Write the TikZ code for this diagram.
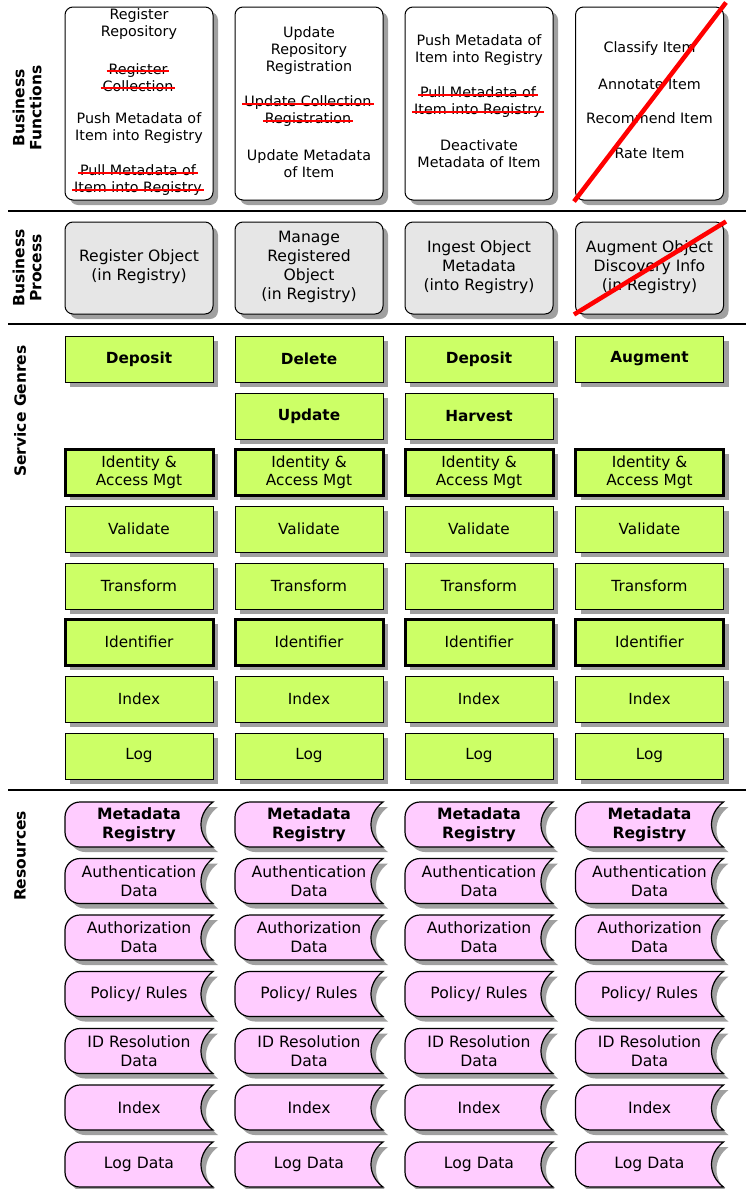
\documentclass[tikz,border=0pt]{standalone}
\usepackage{fontspec}
\setmainfont{DejaVu Sans}
\usetikzlibrary{shadows}
\definecolor{genre}{HTML}{CCFF66}
\definecolor{res}{HTML}{FFCCFF}
\definecolor{proc}{HTML}{E6E6E6}
\definecolor{shad}{HTML}{A0A0A0}
\newsavebox\strikebox
\newcommand\strk[1]{\sbox\strikebox{#1}\makebox[0pt][l]{\usebox\strikebox}\hspace{-2pt}\textcolor{red}{\rule[0.17em]{\dimexpr\wd\strikebox+4pt\relax}{2pt}}\hspace{-2pt}}
\tikzset{
  shd/.style={drop shadow={shadow xshift=5pt,shadow yshift=-5pt,fill=shad,opacity=1}},
  fbox/.style={draw, rounded corners=8pt, fill=white, minimum width=148pt, minimum height=193pt, line width=1pt, inner sep=0pt, shd},
  pbox/.style={draw, rounded corners=8pt, fill=proc, minimum width=148pt, minimum height=92pt, line width=1pt, inner sep=0pt, shd},
  gbox/.style={draw, fill=genre, minimum width=148pt, minimum height=46pt, line width=1pt, inner sep=0pt, align=center, font=\fontsize{15.3}{18}\selectfont, shd},
  gthick/.style={gbox, line width=3pt},
  ftext/.style={align=center, inner sep=0pt, font=\fontsize{14.3}{17}\selectfont},
  ptext/.style={align=center, inner sep=0pt, font=\fontsize{15.6}{19}\selectfont},
  rtext/.style={align=center, inner sep=0pt, font=\fontsize{15.6}{19}\selectfont},
  resshape/.style={draw, fill=res, line width=1.2pt, shd},
  lab/.style={align=center, inner sep=0pt, font=\bfseries\fontsize{15.5}{17}\selectfont, rotate=90},
  sep/.style={line width=1.5pt},
  cross/.style={draw=red, line width=4.5pt},
}
\newcommand\resitem[4]{%
\begin{scope}[shift={(#2,#3)}]
\path[resshape] (148,45) -- (15,45) .. controls (6.7,45) and (0,38.3) .. (0,30) -- (0,15) .. controls (0,6.7) and (6.7,0) .. (15,0) -- (148,0) .. controls (132,12) and (132,33) .. (148,45) -- cycle;
\node[rtext] (#1) at (74,22.5) {#4};
\end{scope}}
\begin{document}
\begin{tikzpicture}[x=1pt,y=-1pt]
\useasboundingbox (0,0) rectangle (746,1189);
\fill[white] (0,0) rectangle (746,1189);
% separators
\coordinate (s1l) at (8,211); \coordinate (s1r) at (746,211);
\coordinate (s2l) at (8,324); \coordinate (s2r) at (746,324);
\coordinate (s3l) at (8,790); \coordinate (s3r) at (746,790);
\draw[sep] (s1l) -- (s1r);
\draw[sep] (s2l) -- (s2r);
\draw[sep] (s3l) -- (s3r);
% labels
\node[lab] (labBF) at (27,108) {Business\\Functions};
\node[lab] (labBP) at (27,268) {Business\\Process};
\node[lab] (labSG) at (20,411) {Service Genres};
\node[lab] (labRS) at (20,856) {Resources};
% business functions
\node[fbox] (f1) at (139,103.5) {};
\node[fbox] (f2) at (309,103.5) {};
\node[fbox] (f3) at (479,103.5) {};
\node[fbox] (f4) at (649.5,103.5) {};
\node[ftext] (f1a) at (139,24.5) {Register\\Repository};
\node[ftext] (f1b) at (139,77.5) {\strk{Register}\\\strk{Collection}};
\node[ftext] (f1c) at (139,128.5) {Push Metadata of\\Item into Registry};
\node[ftext] (f1d) at (139,180.5) {\strk{Pull Metadata of}\\\strk{Item into Registry}};
\node[ftext] (f2a) at (309,51) {Update\\Repository\\Registration};
\node[ftext] (f2b) at (309,111.5) {\strk{Update Collection}\\\strk{Registration}};
\node[ftext] (f2c) at (309,163.5) {Update Metadata\\of Item};
\node[ftext] (f3a) at (479,50) {Push Metadata of\\Item into Registry};
\node[ftext] (f3b) at (479,102.5) {\strk{Pull Metadata of}\\\strk{Item into Registry}};
\node[ftext] (f3c) at (479,153.5) {Deactivate\\Metadata of Item};
\node[ftext] (f4a) at (649.5,49) {Classify Item};
\node[ftext] (f4b) at (649.5,84) {Annotate Item};
\node[ftext] (f4c) at (649.5,118) {Recommend Item};
\node[ftext] (f4d) at (649.5,153) {Rate Item};
\draw[cross] ([shift={(-1,1)}]f4.south west) -- ([shift={(2,-4)}]f4.north east);
% business process
\node[pbox] (p1) at (139,268) {};
\node[pbox] (p2) at (309,268) {};
\node[pbox] (p3) at (479,268) {};
\node[pbox] (p4) at (649.5,268) {};
\node[ptext] (p1t) at (139,266.5) {Register Object\\(in Registry)};
\node[ptext] (p2t) at (309,267) {Manage\\Registered\\Object\\(in Registry)};
\node[ptext] (p3t) at (479,267) {Ingest Object\\Metadata\\(into Registry)};
\node[ptext] (p4t) at (649.5,267) {Augment Object\\Discovery Info\\(in Registry)};
\draw[cross] ([shift={(-1,0)}]p4.south west) -- ([shift={(2,0)}]p4.north east);
% service genres
\node[gbox] (g1a) at (139,359) {\bfseries Deposit};
\node[gbox] (g2a) at (309,359) {\bfseries Delete};
\node[gbox] (g3a) at (479,359) {\bfseries Deposit};
\node[gbox] (g4a) at (649.5,359) {\bfseries Augment};
\node[gbox] (g2b) at (309,416) {\bfseries Update};
\node[gbox] (g3b) at (479,416) {\bfseries Harvest};
\foreach \c/\x in {1/139,2/309,3/479,4/649.5}{
  \node[gthick] (g\c id) at (\x,472) {Identity \&\\Access Mgt};
  \node[gbox] (g\c va) at (\x,529) {Validate};
  \node[gbox] (g\c tr) at (\x,586) {Transform};
  \node[gthick] (g\c if) at (\x,642) {Identifier};
  \node[gbox] (g\c ix) at (\x,699) {Index};
  \node[gbox] (g\c lg) at (\x,756) {Log};
}
% resources
\foreach \c/\x in {1/65,2/235,3/405,4/575.5}{
  \resitem{r\c a}{\x}{802}{\bfseries Metadata\\\bfseries Registry}
  \resitem{r\c b}{\x}{858.5}{Authentication\\Data}
  \resitem{r\c c}{\x}{915}{Authorization\\Data}
  \resitem{r\c d}{\x}{971.5}{Policy/ Rules}
  \resitem{r\c e}{\x}{1028.5}{ID Resolution\\Data}
  \resitem{r\c f}{\x}{1085}{Index}
  \resitem{r\c g}{\x}{1142}{Log Data}
}
\end{tikzpicture}
\end{document}
